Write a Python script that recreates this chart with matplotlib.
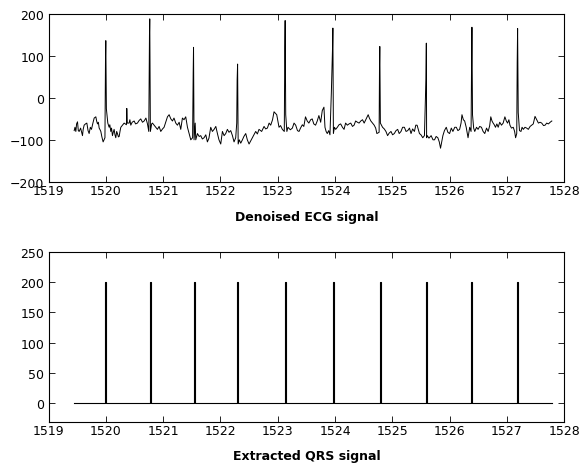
import numpy as np
import matplotlib
matplotlib.use("Agg")
import matplotlib.pyplot as plt

plt.rcParams['font.family'] = ['DejaVu Sans']
plt.rcParams['font.size'] = 9

# denoised ECG (time in s, amplitude)
ecg_t = [
    1519.448, 1519.462, 1519.477, 1519.490, 1519.506, 1519.520, 1519.535, 1519.560,
    1519.593, 1519.605, 1519.622, 1519.645, 1519.669, 1519.690, 1519.709, 1519.730,
    1519.750, 1519.775, 1519.797, 1519.826, 1519.840, 1519.855, 1519.870, 1519.884,
    1519.900, 1519.913, 1519.930, 1519.953, 1519.985,
    1519.995, 1520.000, 1520.010, 1520.035, 1520.058, 1520.070, 1520.087, 1520.100,
    1520.116, 1520.130, 1520.145, 1520.160, 1520.174, 1520.190, 1520.203, 1520.220,
    1520.233, 1520.250, 1520.262, 1520.291, 1520.320, 1520.360, 1520.366, 1520.375,
    1520.407, 1520.420, 1520.436, 1520.460, 1520.494, 1520.520, 1520.552, 1520.580,
    1520.610, 1520.640, 1520.669, 1520.700, 1520.727, 1520.750,
    1520.762, 1520.767, 1520.778, 1520.800, 1520.814, 1520.843, 1520.870, 1520.901,
    1520.930, 1520.959, 1520.990, 1521.017, 1521.045, 1521.076,
    1521.105, 1521.135, 1521.163, 1521.190, 1521.221, 1521.250, 1521.280, 1521.308,
    1521.337, 1521.365, 1521.395, 1521.425, 1521.453,
    1521.483, 1521.515, 1521.525, 1521.531, 1521.540, 1521.560, 1521.570, 1521.599,
    1521.630, 1521.657, 1521.685, 1521.715, 1521.745, 1521.773, 1521.800, 1521.831,
    1521.860, 1521.890, 1521.920, 1521.948, 1521.975, 1522.006, 1522.035, 1522.065,
    1522.093, 1522.122, 1522.150, 1522.180, 1522.210, 1522.238, 1522.267, 1522.285,
    1522.292, 1522.300, 1522.310, 1522.330, 1522.355, 1522.384, 1522.410,
    1522.442, 1522.470, 1522.500, 1522.530, 1522.558, 1522.585, 1522.616, 1522.645,
    1522.674, 1522.720, 1522.762, 1522.790, 1522.820, 1522.850, 1522.878, 1522.910,
    1522.936, 1522.983, 1523.023, 1523.050, 1523.081, 1523.115,
    1523.124, 1523.130, 1523.140, 1523.160, 1523.180, 1523.220,
    1523.256, 1523.285, 1523.314, 1523.345, 1523.372, 1523.398, 1523.430, 1523.456,
    1523.485, 1523.515, 1523.544, 1523.575, 1523.602, 1523.630,
    1523.661, 1523.690, 1523.719, 1523.750, 1523.778, 1523.807, 1523.825, 1523.845,
    1523.865, 1523.890, 1523.912, 1523.936,
    1523.957, 1523.963, 1523.972, 1523.990, 1524.012, 1524.041, 1524.070, 1524.099,
    1524.130, 1524.158, 1524.185, 1524.216, 1524.245, 1524.275,
    1524.305, 1524.333, 1524.360, 1524.392, 1524.420, 1524.450, 1524.480, 1524.509,
    1524.545, 1524.579, 1524.600, 1524.626, 1524.655, 1524.684, 1524.710, 1524.731,
    1524.770,
    1524.777, 1524.782, 1524.792, 1524.810, 1524.830, 1524.860, 1524.889, 1524.918,
    1524.945, 1524.977, 1525.005, 1525.035, 1525.065, 1525.094,
    1525.120, 1525.152, 1525.180, 1525.211, 1525.240, 1525.269, 1525.300, 1525.327,
    1525.355, 1525.386, 1525.410, 1525.433, 1525.474, 1525.500, 1525.532,
    1525.561, 1525.587, 1525.594, 1525.599, 1525.610, 1525.640, 1525.678, 1525.710,
    1525.737, 1525.765, 1525.795, 1525.820, 1525.842,
    1525.883, 1525.910, 1525.942, 1525.970, 1526.000, 1526.030, 1526.058, 1526.090,
    1526.117, 1526.145, 1526.175, 1526.200, 1526.216, 1526.240, 1526.263, 1526.290,
    1526.322, 1526.351, 1526.375,
    1526.383, 1526.390, 1526.400, 1526.420, 1526.439, 1526.470, 1526.497, 1526.525,
    1526.556, 1526.585, 1526.614, 1526.645, 1526.673, 1526.700, 1526.719, 1526.740,
    1526.760, 1526.780, 1526.801, 1526.825, 1526.848, 1526.875, 1526.906, 1526.935,
    1526.965, 1526.990, 1527.012, 1527.035,
    1527.053, 1527.080, 1527.111, 1527.135, 1527.152, 1527.172,
    1527.180, 1527.187, 1527.198, 1527.220, 1527.246, 1527.265,
    1527.287, 1527.316, 1527.345, 1527.374, 1527.405, 1527.433, 1527.460, 1527.491,
    1527.520, 1527.550, 1527.580, 1527.608, 1527.640, 1527.667, 1527.695, 1527.725,
    1527.755, 1527.784,
]
ecg_v = [
    -78, -70, -80, -62, -57, -78, -80, -72,
    -90, -75, -65, -62, -60, -78, -85, -70,
    -75, -60, -48, -45, -55, -62, -58, -72,
    -76, -80, -92, -105, -95,
    100, 137, -26, -60, -70, -64, -80, -72,
    -90, -82, -75, -88, -95, -80, -85, -93,
    -92, -78, -70, -65, -60, -64, -25, -60,
    -60, -52, -65, -58, -55, -62, -60, -54,
    -50, -58, -55, -48, -62, -80,
    150, 189, -80, -62, -60, -65, -70, -75,
    -68, -80, -74, -70, -58, -45,
    -40, -50, -55, -48, -60, -65, -58, -75,
    -48, -52, -45, -70, -85,
    -100, -95, 60, 121, -100, -60, -100, -85,
    -92, -90, -98, -95, -88, -105, -96, -70,
    -80, -75, -68, -85, -100, -110, -80, -90,
    -85, -75, -82, -78, -90, -105, -95, -60,
    43, 81, -110, -100, -108, -100, -92,
    -85, -100, -110, -102, -95, -88, -80, -86,
    -75, -80, -68, -74, -72, -60, -65, -52,
    -33, -40, -70, -66, -75, -80,
    120, 185, -40, -80, -70, -76,
    -72, -60, -65, -78, -80, -72, -64, -68,
    -45, -55, -60, -52, -50, -62,
    -65, -55, -42, -58, -30, -22, -70, -80,
    -85, -78, -88, 11,
    120, 167, -85, -70, -75, -70, -64, -62,
    -70, -75, -60, -65, -62, -60,
    -68, -65, -55, -58, -60, -55, -52, -60,
    -50, -40, -48, -55, -60, -65, -72, -85,
    -82,
    80, 123, -60, -65, -70, -74, -80, -90,
    -84, -80, -88, -85, -78, -75,
    -85, -80, -70, -70, -80, -78, -72, -85,
    -74, -80, -65, -65, -85, -88, -95,
    -90, 45, 131, -95, -90, -96, -90, -100,
    -100, -92, -95, -105, -120,
    -90, -78, -70, -82, -85, -72, -80, -70,
    -70, -78, -75, -60, -40, -52, -55, -70,
    -95, -70, -80,
    77, 169, -40, -72, -80, -70, -75, -68,
    -70, -80, -85, -72, -80, -66, -45, -55,
    -60, -64, -70, -62, -70, -58, -65, -60,
    -45, -55, -60, -52,
    -65, -72, -70, -80, -95, -85,
    85, 166, -35, -78, -80, -70,
    -75, -70, -72, -75, -68, -65, -62, -44,
    -52, -60, -58, -60, -66, -65, -60, -62,
    -58, -55,
]

# detected QRS locations and pulse amplitude
qrs_t = [1520.00, 1520.78, 1521.54, 1522.30, 1523.14,
         1523.97, 1524.79, 1525.60, 1526.39, 1527.18]
qrs_amp = [200, 200, 200, 200, 200, 200, 200, 200, 200, 200]
qrs_start, qrs_end = 1519.45, 1527.78

# build pulse train from the QRS list
hw = 0.008
px, py = [qrs_start], [0]
for t, a in zip(qrs_t, qrs_amp):
    px += [t - hw, t - hw, t + hw, t + hw]
    py += [0, a, a, 0]
px.append(qrs_end)
py.append(0)

fig = plt.figure(figsize=(5.88, 4.64), dpi=100)
ax1 = fig.add_axes([0.0825, 0.6063, 0.877, 0.3608])
ax2 = fig.add_axes([0.0825, 0.089, 0.877, 0.3664])

ax1.plot(ecg_t, ecg_v, color='k', lw=0.7)
ax1.set_xlim(1519, 1528)
ax1.set_ylim(-200, 200)
ax1.set_yticks([-200, -100, 0, 100, 200])
ax1.set_xlabel('Denoised ECG signal', fontweight='bold', labelpad=9)

ax2.plot(px, py, color='k', lw=0.8)
ax2.set_xlim(1519, 1528)
ax2.set_ylim(-30, 250)
ax2.set_yticks([0, 50, 100, 150, 200, 250])
ax2.set_xlabel('Extracted QRS signal', fontweight='bold', labelpad=8)

for ax in (ax1, ax2):
    ax.set_xticks(np.arange(1519, 1529))
    ax.tick_params(direction='in', top=True, right=True, length=4, width=0.6)
    ax.tick_params(axis='y', pad=3)
    ax.tick_params(axis='x', pad=2)
    for s in ax.spines.values():
        s.set_linewidth(0.8)

fig.savefig('out.png', dpi=100)
